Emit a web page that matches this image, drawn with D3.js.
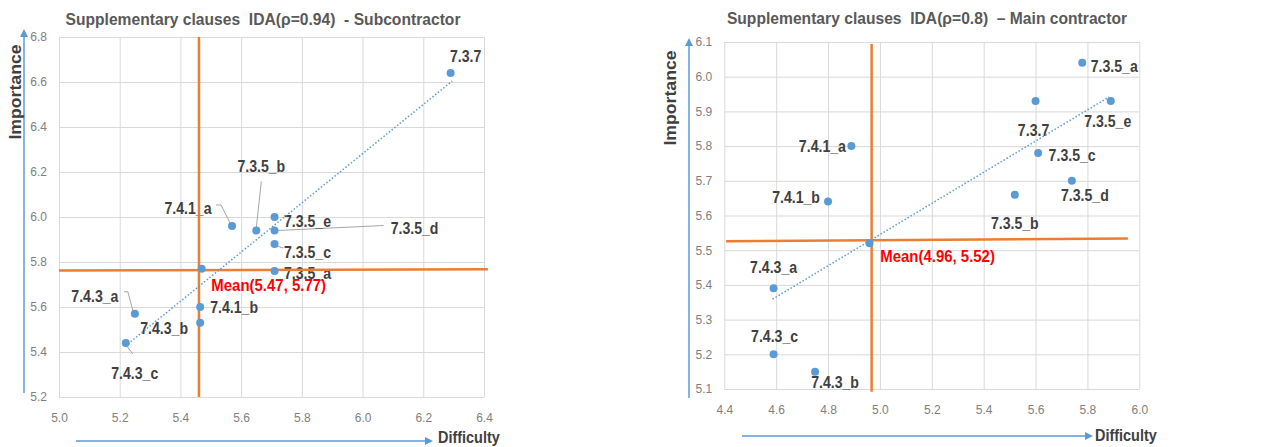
<!DOCTYPE html>
<html>
<head>
<meta charset="utf-8">
<script src="https://cdn.jsdelivr.net/npm/d3@7"></script>
<style>
body { margin: 0; background: #fff; }
text { font-family: "Liberation Sans", Arial, sans-serif; white-space: pre; }
</style>
</head>
<body>
<svg id="chart" width="1287" height="447"></svg>
<script>
// ---- Subcontractor (left) ----
var subLabels     = ["7.3.7", "7.3.5_e", "7.3.5_d", "7.3.5_b", "7.4.1_a", "7.3.5_c", "7.3.5_a", "7.4.1_b", "7.4.3_b", "7.4.3_a", "7.4.3_c"];
var subDifficulty = [6.29, 5.71, 5.71, 5.65, 5.57, 5.71, 5.71, 5.465, 5.465, 5.25, 5.22];
var subImportance = [6.64, 6.00, 5.94, 5.94, 5.96, 5.88, 5.76, 5.60, 5.53, 5.57, 5.44];
var subMean       = [5.47, 5.77];
var subTrend      = [[5.227, 5.436], [6.295, 6.604]];
var subMeanV      = [[5.461, 6.8], [5.461, 5.2]];
var subMeanH      = [[5.0, 5.762], [6.413, 5.768]];
var subXTicks     = [5.0, 5.2, 5.4, 5.6, 5.8, 6.0, 6.2, 6.4];
var subYTicks     = [5.2, 5.4, 5.6, 5.8, 6.0, 6.2, 6.4, 6.6, 6.8];

// ---- Main contractor (right) ----
var mainLabels     = ["7.3.5_a", "7.3.5_e", "7.3.7", "7.3.5_c", "7.3.5_d", "7.3.5_b", "7.4.1_a", "7.4.1_b", "7.4.3_a", "7.4.3_c", "7.4.3_b"];
var mainDifficulty = [5.78, 5.89, 5.60, 5.61, 5.74, 5.52, 4.89, 4.80, 4.59, 4.59, 4.75];
var mainImportance = [6.04, 5.93, 5.93, 5.78, 5.70, 5.66, 5.80, 5.64, 5.39, 5.20, 5.15];
var mainMean       = [4.96, 5.52];
var mainTrend      = [[4.586, 5.359], [5.884, 5.942]];
var mainMeanV      = [[4.968, 6.094], [4.968, 5.092]];
var mainMeanH      = [[4.407, 5.526], [5.956, 5.534]];
var mainXTicks     = [4.4, 4.6, 4.8, 5.0, 5.2, 5.4, 5.6, 5.8, 6.0];
var mainYTicks     = [5.1, 5.2, 5.3, 5.4, 5.5, 5.6, 5.7, 5.8, 5.9, 6.0, 6.1];

// label placement (pixel offsets from the point) and leader lines
var subLabelPos = {
  "7.3.7": [15, -17], "7.3.5_b": [5, -64], "7.4.1_a": [-44, -18], "7.3.5_e": [33, 4],
  "7.3.5_d": [140, -2], "7.3.5_c": [33, 8], "7.3.5_a": [33, 2], "7.4.1_b": [34, 0],
  "7.4.3_b": [-36, 5], "7.4.3_a": [-40, -18], "7.4.3_c": [9, 30], "mean": [67, 16]
};
var subLeaders = {
  "7.4.1_a": [[-16, -21], [-11, -21], [-2, -3]],
  "7.3.5_b": [[5, -49], [0, -3]],
  "7.3.5_d": [[3, 0], [109, -5]],
  "7.3.5_c": [[2, 2], [9, 4]],
  "7.4.3_a": [[-11, -22], [-7, -22], [-2, -3]],
  "7.4.3_c": [[1, 3], [7, 11]]
};
var mainLabelPos = {
  "7.3.5_a": [32, 3], "7.3.5_e": [-3, 20], "7.3.7": [-2, 29], "7.4.1_a": [-29, 0],
  "7.3.5_c": [34, 2], "7.3.5_d": [13, 14], "7.4.1_b": [-32, -5], "7.3.5_b": [0, 28],
  "7.4.3_a": [0, -21], "7.4.3_c": [1, -18], "7.4.3_b": [20, 10], "mean": [68, 13]
};

var svg = d3.select("#chart");
var blue = "#5B9BD5", orange = "#ED7D31";

// text squeezed horizontally (source font is narrower than what we have)
function addText(g, x, y, str, o) {
  return g.append("text")
    .attr("transform", "translate(" + x + "," + y + ")" + (o.rotate ? " rotate(-90)" : "") + " scale(" + o.sx + ",1)")
    .attr("text-anchor", o.anchor || "middle").attr("dominant-baseline", "central")
    .attr("fill", o.fill || "#404040")
    .style("font-size", (o.size || 17) + "px").style("font-weight", "bold")
    .text(str);
}

function drawChart(cfg) {
  var x = d3.scaleLinear().domain(d3.extent(cfg.xTicks)).range([cfg.left, cfg.right]);
  var y = d3.scaleLinear().domain(d3.extent(cfg.yTicks)).range([cfg.bottom, cfg.top]);
  var g = svg.append("g");

  // grid + tick labels
  var xa = g.append("g").attr("transform", "translate(0," + cfg.bottom + ")")
    .call(d3.axisBottom(x).tickValues(cfg.xTicks).tickFormat(d3.format(".1f"))
      .tickSize(-(cfg.bottom - cfg.top)).tickPadding(16));
  var ya = g.append("g").attr("transform", "translate(" + cfg.left + ",0)")
    .call(d3.axisLeft(y).tickValues(cfg.yTicks).tickFormat(d3.format(".1f"))
      .tickSize(-(cfg.right - cfg.left)).tickPadding(12));
  [xa, ya].forEach(function(a) {
    a.select(".domain").remove();
    a.selectAll("line").attr("stroke", "#D9D9D9");
    a.selectAll("text").attr("fill", "#808080").style("font-size", "12px")
      .style("font-family", "'Liberation Sans',sans-serif");
  });

  // title
  addText(g, cfg.titleX, cfg.titleY, cfg.title, { sx: 0.92, fill: "#595959" });

  // axis arrows
  var ax = cfg.arrowY;
  g.append("line").attr("x1", ax.x).attr("x2", ax.x).attr("y1", ax.y2).attr("y2", ax.y1 + 6)
    .attr("stroke", blue).attr("stroke-width", 1.5);
  g.append("path").attr("d", "M" + ax.x + "," + ax.y1 + "l-4,8h8z").attr("fill", blue);
  var bx = cfg.arrowX;
  g.append("line").attr("x1", bx.x1).attr("x2", bx.x2 - 6).attr("y1", bx.y).attr("y2", bx.y)
    .attr("stroke", blue).attr("stroke-width", 1.5);
  g.append("path").attr("d", "M" + bx.x2 + "," + bx.y + "l-8,-4v8z").attr("fill", blue);

  addText(g, cfg.impX, cfg.impY, "Importance", { sx: 1.04, rotate: true });
  addText(g, cfg.difX, cfg.difY, "Difficulty", { sx: 0.85, anchor: "start" });

  var pts = cfg.labels.map(function(l, i) {
    return { label: l, px: x(cfg.dx[i]), py: y(cfg.dy[i]) };
  });
  pts.push({ label: "mean", px: x(cfg.mean[0]), py: y(cfg.mean[1]) });

  // leader lines
  var line = d3.line();
  pts.forEach(function(p) {
    var ld = cfg.leaders[p.label];
    if (!ld) return;
    g.append("path").attr("d", line(ld.map(function(o) { return [p.px + o[0], p.py + o[1]]; })))
      .attr("fill", "none").attr("stroke", "#A6A6A6").attr("stroke-width", 1);
  });

  // data labels
  pts.forEach(function(d) {
    var pos = cfg.labelPos[d.label];
    if (d.label == "mean") {
      addText(g, d.px + pos[0], d.py + pos[1],
        "Mean(" + cfg.mean[0].toFixed(2) + ", " + cfg.mean[1].toFixed(2) + ")",
        { sx: 0.88, fill: "#FF0000" });
    } else {
      addText(g, d.px + pos[0], d.py + pos[1], d.label, { sx: 0.83 });
    }
  });

  // mean cross lines
  [cfg.meanV, cfg.meanH].forEach(function(seg) {
    g.append("line")
      .attr("x1", x(seg[0][0])).attr("y1", y(seg[0][1]))
      .attr("x2", x(seg[1][0])).attr("y2", y(seg[1][1]))
      .attr("stroke", orange).attr("stroke-width", 2.5);
  });

  // trendline
  g.append("line")
    .attr("x1", x(cfg.trend[0][0])).attr("y1", y(cfg.trend[0][1]))
    .attr("x2", x(cfg.trend[1][0])).attr("y2", y(cfg.trend[1][1]))
    .attr("stroke", blue).attr("stroke-width", 1.5).attr("stroke-dasharray", "1.5,2");

  // points
  g.selectAll(".pt").data(pts).enter().append("circle")
    .attr("cx", function(d) { return d.px; })
    .attr("cy", function(d) { return d.py; })
    .attr("r", 4).attr("fill", blue);
}

drawChart({
  title: "Supplementary clauses  IDA(\u03c1=0.94)  - Subcontractor",
  labels: subLabels, dx: subDifficulty, dy: subImportance, mean: subMean,
  trend: subTrend, meanV: subMeanV, meanH: subMeanH,
  xTicks: subXTicks, yTicks: subYTicks,
  labelPos: subLabelPos, leaders: subLeaders,
  left: 59, right: 484, top: 37, bottom: 397,
  titleX: 263, titleY: 19,
  arrowY: { x: 24, y1: 29, y2: 393 }, arrowX: { y: 441, x1: 76, x2: 433 },
  impX: 15, impY: 92, difX: 438, difY: 437
});

drawChart({
  title: "Supplementary clauses  IDA(\u03c1=0.8)  \u2013 Main contractor",
  labels: mainLabels, dx: mainDifficulty, dy: mainImportance, mean: mainMean,
  trend: mainTrend, meanV: mainMeanV, meanH: mainMeanH,
  xTicks: mainXTicks, yTicks: mainYTicks,
  labelPos: mainLabelPos, leaders: {},
  left: 724.3, right: 1139.3, top: 42, bottom: 389,
  titleX: 927, titleY: 18,
  arrowY: { x: 689, y1: 38, y2: 398 }, arrowX: { y: 436, x1: 742, x2: 1093 },
  impX: 670, impY: 98, difX: 1095, difY: 435
});
</script>
</body>
</html>
